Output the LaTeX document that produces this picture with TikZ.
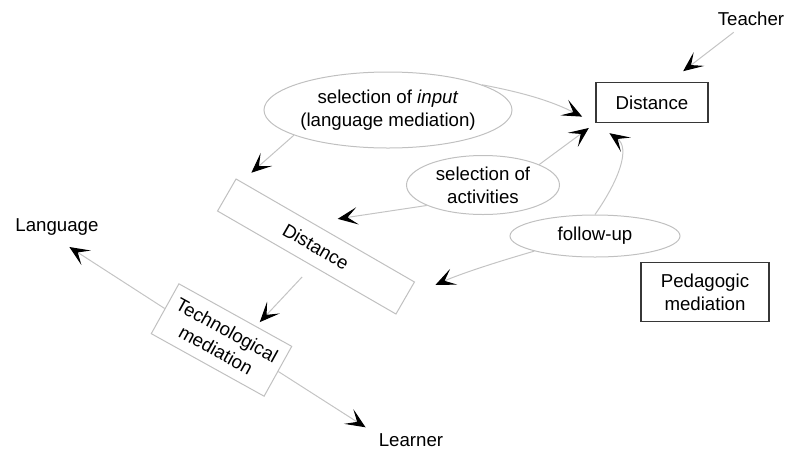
\documentclass[tikz,border=0pt]{standalone}
\usepackage{fontspec}
\setmainfont{Liberation Sans}
\usetikzlibrary{shapes.geometric,arrows.meta}

\definecolor{linegray}{RGB}{196,196,196}
\definecolor{ovalgray}{RGB}{192,192,192}
\definecolor{boxdark}{RGB}{55,55,55}

\tikzset{every picture/.style={line width=0.75pt}}
\tikzset{
  lbl/.style={font=\fontsize{14}{17}\selectfont, align=center, inner sep=2pt},
  oval/.style={lbl, ellipse, draw=ovalgray, inner sep=0pt},
  framebox/.style={lbl, draw=boxdark, line width=1.1pt, inner sep=0pt},
  tiltbox/.style={lbl, draw=ovalgray, inner sep=0pt},
  link/.style={draw=linegray, -{Stealth[black, length=15pt, width=13pt, inset=7.5pt]}},
}

\begin{document}
\begin{tikzpicture}[x=0.75pt,y=0.75pt,yscale=-1,xscale=1]
	\useasboundingbox (0,0) rectangle (790,451);

	% Text Node
	\node[lbl] (teacher) at (751,19) {Teacher};
	% Text Node
	\node[lbl] (language) at (57,227.5) {Language};
	% Text Node
	\node[lbl] (learner) at (411,440) {Learner};

	%Shape: Rectangle
	\node[framebox, minimum width=84pt, minimum height=30pt] (dist-top) at (652,102.5) {Distance};
	%Shape: Rectangle
	\node[framebox, minimum width=96pt, minimum height=44.25pt] (pedagogic) at (705,292) {Pedagogic\\mediation};
	%Shape: Rectangle (tilted)
	\node[tiltbox, rotate=-30, minimum width=154.5pt, minimum height=27.75pt] (dist-mid) at (316,246.5) {Distance};
	%Shape: Rectangle (tilted)
	\node[tiltbox, rotate=-29, minimum width=96.75pt, minimum height=42.75pt] (tech) at (221.5,340) {Technological\\mediation};

	%Shape: Ellipse
	\node[oval, minimum width=157.5pt, minimum height=57pt] (sel-input) at (388,110) {selection of~\textit{input}\\(language mediation)};
	%Shape: Ellipse
	\node[oval, minimum width=114.75pt, minimum height=44.25pt] (sel-act) at (483,185) {selection of\\activities};
	%Shape: Ellipse
	\node[oval, minimum width=127.5pt, minimum height=31.5pt] (follow) at (595,236) {follow-up};

	%Straight Lines
	\draw[link, shorten <=4pt, shorten >=13pt] (teacher) -- (dist-top.50);
	%Curve Lines
	\draw[link, shorten >=11pt] (sel-input.15) to[bend right=8] (dist-top.south west);
	%Straight Lines
	\draw[link, shorten >=6pt] (sel-act.20) -- (dist-top.south west);
	%Curve Lines
	\draw[link, shorten >=13pt] (follow.north) to[out=-55, in=35, looseness=1.2] (dist-top.south west);
	%Straight Lines
	\draw[link, shorten >=25pt] (sel-input.195) -- (dist-mid.west);
	%Straight Lines
	\draw[link, shorten >=19pt] (sel-act.200) -- (dist-mid.128);
	%Curve Lines
	\draw[link, shorten >=24.5pt] (follow.194) to[bend left=4] (dist-mid.east);
	%Straight Lines
	\draw[link, shorten <=11pt, shorten >=4pt] (dist-mid.-71) -- (tech.51);
	%Straight Lines
	\draw[link, shorten >=11pt] (tech.west) -- (language.south);
	%Straight Lines
	\draw[link, shorten >=9pt] (tech.east) -- (learner.170);

\end{tikzpicture}
\end{document}
